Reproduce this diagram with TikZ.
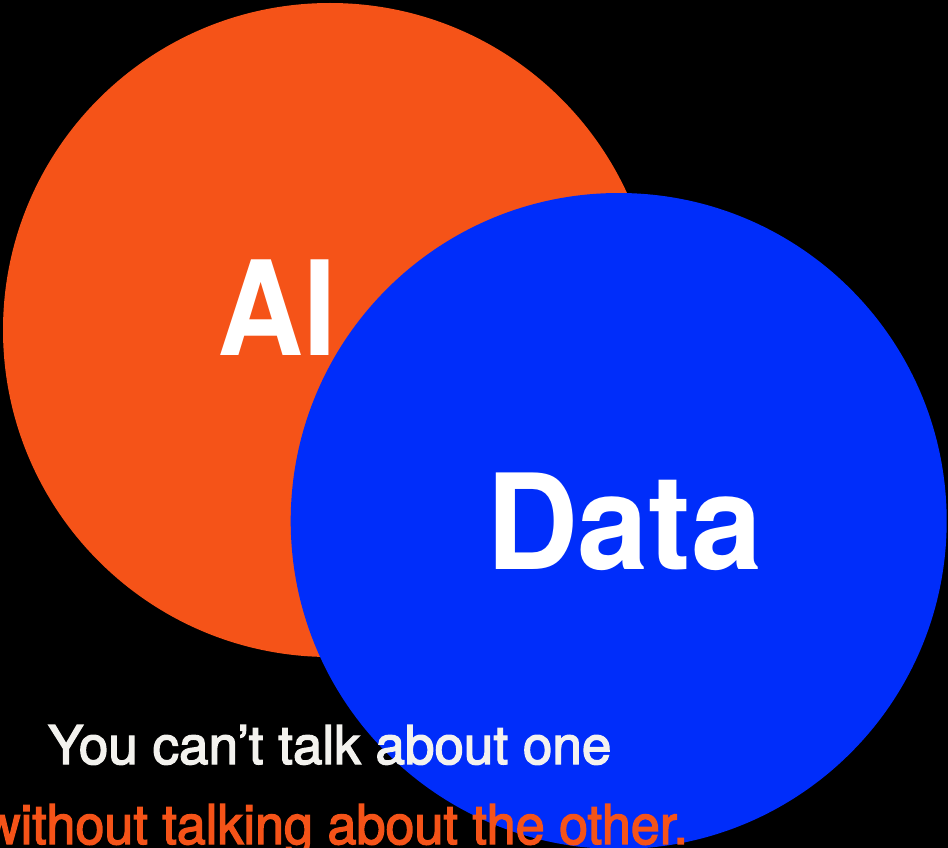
\documentclass[tikz,border=0pt]{standalone}
\usepackage{fontspec}
\setmainfont{TeX Gyre Heros}
\newfontfamily\tagfont{TeX Gyre Heros}[FakeBold=2.5]
\usepackage{graphicx}
\definecolor{aiorange}{HTML}{F55318}
\definecolor{datablue}{HTML}{002DFA}
\definecolor{offwhite}{HTML}{F3F2EE}
\newsavebox\lineAbox
\newsavebox\lineBbox
\newlength\lineAwd
\newlength\lineAht
\newlength\lineBwd
\newlength\lineBht
\AtBeginDocument{%
  \sbox\lineAbox{\tagfont\color{offwhite}You can’t talk about one}%
  \sbox\lineBbox{\tagfont\color{aiorange}without talking about the other.}%
  \setlength\lineAwd{\wd\lineAbox}%
  \setlength\lineAht{\ht\lineAbox}%
  \setlength\lineBwd{\wd\lineBbox}%
  \setlength\lineBht{\ht\lineBbox}%
}
\begin{document}
\begin{tikzpicture}[x=1pt,y=-1pt,
  bigword/.style={text=white,inner sep=0pt,outer sep=0pt,font=\bfseries},
  tagline/.style={inner sep=0pt,outer sep=0pt}]
\fill[black] (0,0) rectangle (948,848);
\useasboundingbox (0,0) rectangle (948,848);
\clip (0,0) rectangle (948,848);
% circles
\fill[aiorange] (330,330) circle[radius=327pt];
\coordinate (aic) at (330,330);
\node[bigword,anchor=base west] (ai) at (217.3,355.7) {\resizebox{119.4pt}{95.7pt}{AI}};
\fill[datablue] (618.7,521) circle[radius=328pt];
\coordinate (datac) at (618.7,521);
\node[bigword,anchor=base west] (data) at (486,569.3) {\resizebox{276.7pt}{96.6pt}{Data}};
% tagline
\pgfmathsetmacro\sxa{563.4/\lineAwd}
\pgfmathsetmacro\sya{39/\lineAht}
\pgfmathsetmacro\sxb{705/\lineBwd}
\pgfmathsetmacro\syb{40/\lineBht}
\node[tagline,anchor=base west] (lineA) at (48,764) {\scalebox{\sxa}[\sya]{\usebox\lineAbox}};
\node[tagline,anchor=base east] (lineB) at (688,844) {\scalebox{\sxb}[\syb]{\usebox\lineBbox}};
\end{tikzpicture}
\end{document}
